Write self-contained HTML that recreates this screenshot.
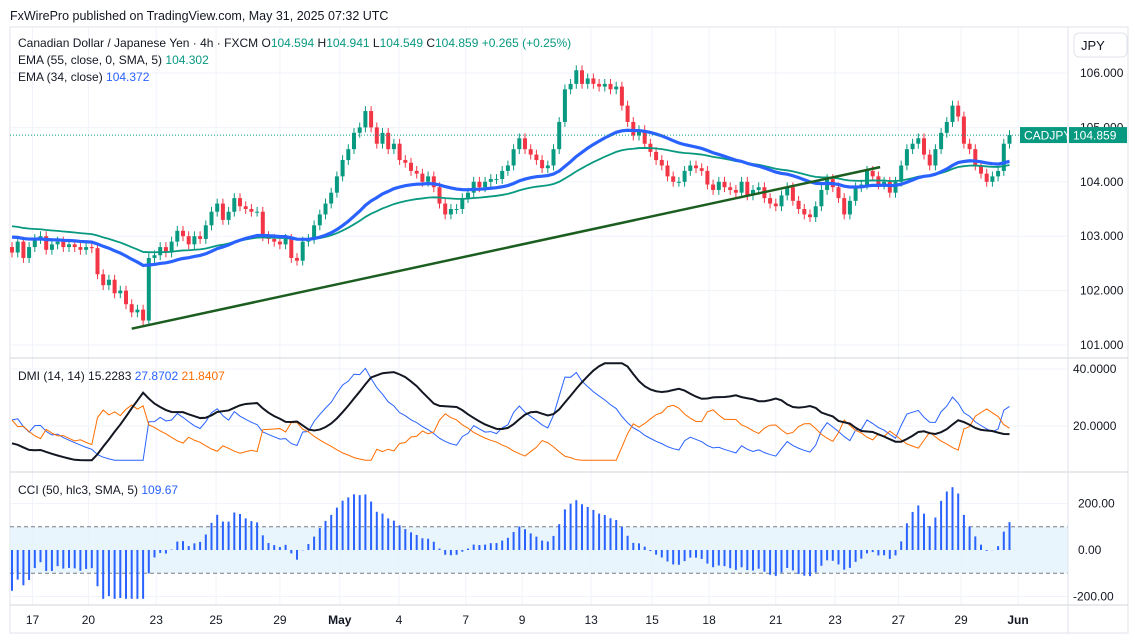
<!DOCTYPE html>
<html><head><meta charset="utf-8"><style>
body{margin:0;background:#fff;font-family:"Liberation Sans",sans-serif;}
svg text{font-family:"Liberation Sans",sans-serif;}
</style></head><body>
<svg id="c" width="1135" height="639" xmlns="http://www.w3.org/2000/svg">
<rect x="0" y="0" width="1135" height="639" fill="#fff"/>
<text x="10" y="20" font-size="12.5" fill="#131722">FxWirePro published on TradingView.com, May 31, 2025 07:32 UTC</text>
<rect x="10" y="27" width="1118" height="606" fill="none" stroke="#e0e3eb"/>
<g id="grid"></g>
<g id="main"></g>
<g id="dmi"></g>
<g id="cci"></g>
<g id="axes"></g>
<text x="18" y="47" font-size="12" fill="#131722">Canadian Dollar / Japanese Yen · 4h · FXCM  O<tspan fill="#089981">104.594</tspan>  H<tspan fill="#089981">104.941</tspan>  L<tspan fill="#089981">104.549</tspan>  C<tspan fill="#089981">104.859</tspan>  <tspan fill="#089981">+0.265 (+0.25%)</tspan></text>
<text x="18" y="64" font-size="12" fill="#131722">EMA (55, close, 0, SMA, 5)  <tspan fill="#089981">104.302</tspan></text>
<text x="18" y="81" font-size="12" fill="#131722">EMA (34, close)  <tspan fill="#2962ff">104.372</tspan></text>
<text x="18" y="380" font-size="12" fill="#131722">DMI (14, 14)  15.2283  <tspan fill="#2962ff">27.8702</tspan>  <tspan fill="#ff6d00">21.8407</tspan></text>
<text x="18" y="494" font-size="12" fill="#131722">CCI (50, hlc3, SMA, 5)  <tspan fill="#2962ff">109.67</tspan></text>
<rect x="1074" y="33" width="53" height="24" rx="5" fill="#fff" stroke="#e0e3eb"/>
<text x="1081" y="50" font-size="13" fill="#131722">JPY</text>
</svg>
<script>
const histCloses=[103.4,103.5,103.45,103.6,103.55,103.5,103.4,103.45,103.35,103.3,
103.3,103.2,103.25,103.15,103.1,103.1,103.0,103.05,102.95,102.9];
const closes=[102.7,102.9,102.6,102.8,102.95,103.0,102.75,102.85,102.9,102.8,
102.85,102.8,102.75,102.8,102.78,102.3,102.1,102.2,101.95,102.0,
101.75,101.6,101.65,101.45,102.6,102.65,102.8,102.7,102.9,103.1,
103.0,102.85,103.0,102.95,103.2,103.45,103.6,103.3,103.45,103.7,
103.55,103.5,103.45,103.45,103.0,102.95,102.9,102.85,102.95,102.6,
102.55,102.9,102.95,103.2,103.4,103.6,103.8,104.1,104.4,104.6,
104.9,105.0,105.3,105.0,104.7,104.9,104.6,104.7,104.4,104.35,
104.2,104.15,104.0,104.1,103.9,103.6,103.4,103.5,103.5,103.7,
103.8,104.0,103.9,104.0,104.05,104.05,104.2,104.3,104.6,104.8,
104.6,104.5,104.4,104.25,104.3,104.6,105.1,105.7,105.8,106.05,
105.8,105.9,105.8,105.75,105.8,105.7,105.75,105.4,105.1,104.85,
104.95,104.7,104.55,104.4,104.3,104.1,104.0,104.0,104.2,104.3,
104.25,104.2,103.95,103.85,104.0,103.9,103.85,103.8,104.0,103.75,
103.85,103.9,103.7,103.6,103.55,103.75,103.9,103.65,103.5,103.4,
103.35,103.55,103.85,104.05,103.9,103.7,103.4,103.65,103.9,103.95,
104.2,104.1,103.95,104.0,103.8,104.0,104.3,104.6,104.7,104.8,
104.5,104.3,104.6,104.9,105.1,105.4,105.2,104.7,104.6,104.3,
104.15,104.0,104.1,104.2,104.7,104.859];
const firstOpen=102.8;
const priceTicks=[106,105,104,103,102,101];
const dmiTicks=[40,20];
const cciTicks=[200,0,-200];
const dateLabels=["17","20","23","25","29","May","4","7","9","13","15","18","21","23","27","29","Jun"];
const dateIdx=[3.6,13.4,25.3,35.8,47,57.5,67.9,79.6,89.5,101.6,112.3,122.3,134,144.4,155.5,166.5,176.5];
const trendStart=[21,101.3], trendEnd=[152.3,104.27];

const NS="http://www.w3.org/2000/svg";
function el(t,a,p){const e=document.createElementNS(NS,t);for(const k in a)e.setAttribute(k,a[k]);(p||document.getElementById('c')).appendChild(e);return e;}
const X=i=>12+i*5.7;
const Y=p=>73+(106-p)*54.4;
const YD=v=>426-(v-20)*2.85;
const YC=v=>550-v*0.2325;
const R=1068;
const grid=document.getElementById('grid'),main=document.getElementById('main'),dmi=document.getElementById('dmi'),cci=document.getElementById('cci'),axes=document.getElementById('axes');

dateIdx.forEach(i=>{const g=el('line',{x1:X(i),x2:X(i),y1:28,y2:605,stroke:'#f0f3fa'},grid);});
priceTicks.forEach(p=>{const g=el('line',{x1:10,x2:R,y1:Y(p),y2:Y(p),stroke:'#f0f3fa'},grid);
const t=el('text',{x:1080,y:Y(p)+4,'font-size':12,fill:'#131722'},axes);t.textContent=p.toFixed(3);});
dmiTicks.forEach(v=>{const g=el('line',{x1:10,x2:R,y1:YD(v),y2:YD(v),stroke:'#f0f3fa'},grid);
const t=el('text',{x:1073,y:YD(v)+4,'font-size':12,fill:'#131722'},axes);t.textContent=v.toFixed(4);});
cciTicks.forEach(v=>{const g=el('line',{x1:10,x2:R,y1:YC(v),y2:YC(v),stroke:'#f0f3fa'},grid);
const t=el('text',{x:v<0?1073:1078,y:YC(v)+4,'font-size':12,fill:'#131722'},axes);t.textContent=v.toFixed(2);});
[358,472,605].forEach(y=>{const l=el('line',{x1:10,x2:1128,y1:y,y2:y,stroke:'#d1d4dc'},axes);});
const ax=el('line',{x1:R,x2:R,y1:27,y2:633,stroke:'#e0e3eb'},axes);
dateLabels.forEach((d,k)=>{const t=el('text',{x:X(dateIdx[k]),y:624,'font-size':12,fill:'#131722','text-anchor':'middle','font-weight':d==='May'||d==='Jun'?'bold':'normal'},axes);t.textContent=d;});

const N=closes.length,O=[],H=[],L=[];
for(let i=0;i<N;i++){const o=i?closes[i-1]:firstOpen;O.push(o);H.push(Math.max(o,closes[i])+0.09);L.push(Math.min(o,closes[i])-0.09);}

for(let i=0;i<N;i++){const up=closes[i]>=O[i],col=up?'#089981':'#f23645';
const w=el('line',{x1:X(i),x2:X(i),y1:Y(H[i]),y2:Y(L[i]),stroke:col,'stroke-width':1},main);
const t=Y(Math.max(O[i],closes[i])),b=Y(Math.min(O[i],closes[i]));
const r=el('rect',{x:X(i)-2,y:t,width:4,height:Math.max(1,b-t),fill:col},main);}

function ema(n,seed){let e=seed;return closes.map(c=>{e=e+(2/(n+1))*(c-e);return e;});}
const e55=ema(55,103.2),e34=ema(34,103.0);
const p55=el('polyline',{points:e55.map((v,i)=>X(i)+','+Y(v)).join(' '),fill:'none',stroke:'#089981','stroke-width':1.8},main);
const p34=el('polyline',{points:e34.map((v,i)=>X(i)+','+Y(v)).join(' '),fill:'none',stroke:'#2962ff','stroke-width':3.2},main);
const tl=el('line',{x1:X(trendStart[0]),y1:Y(trendStart[1]),x2:X(trendEnd[0]),y2:Y(trendEnd[1]),stroke:'#1b5e20','stroke-width':2.5},main);
const last=closes[N-1];
const dl=el('line',{x1:10,x2:R,y1:Y(last),y2:Y(last),stroke:'#089981','stroke-dasharray':'1 2'},main);
const b1=el('rect',{x:1020,y:Y(last)-8,width:47,height:16,fill:'#089981'},axes);
const t1=el('text',{x:1024,y:Y(last)+4.5,'font-size':12,fill:'#fff'},axes);t1.textContent='CADJPY';
const b2=el('rect',{x:1069,y:Y(last)-8,width:58,height:16,fill:'#089981'},axes);
const t2=el('text',{x:1073,y:Y(last)+4.5,'font-size':12,fill:'#fff'},axes);t2.textContent=last.toFixed(3);

let sTR=14*0.25,sP=14*0.06,sM=14*0.06,adx=15;const PD=[],MD=[],AD=[];
for(let i=0;i<N;i++){const ph=i?H[i-1]:H[i],pl=i?L[i-1]:L[i],pc=i?closes[i-1]:O[i];
const up=H[i]-ph,dn=pl-L[i];const pdm=up>dn&&up>0?up:0,mdm=dn>up&&dn>0?dn:0;
const tr=Math.max(H[i]-L[i],Math.abs(H[i]-pc),Math.abs(L[i]-pc));
sTR=sTR-sTR/14+tr;sP=sP-sP/14+pdm;sM=sM-sM/14+mdm;
const pdi=100*sP/sTR,mdi=100*sM/sTR,dx=100*Math.abs(pdi-mdi)/(pdi+mdi||1);adx=adx+(dx-adx)/14;
PD.push(pdi);MD.push(mdi);AD.push(adx);}
const cl=v=>Math.max(8,Math.min(42,v));
[[PD,'#2962ff',1,'plus-di-line'],[MD,'#ff6d00',1,'minus-di-line'],[AD,'#131722',2,'adx-line']].forEach(([a,c,w,n])=>{const p=el('polyline',{points:a.map((v,i)=>X(i)+','+YD(cl(v))).join(' '),fill:'none',stroke:c,'stroke-width':w},dmi);});

const band=el('rect',{x:10,y:YC(100),width:R-10,height:YC(-100)-YC(100),fill:'#e3f2fd',opacity:0.8},cci);
[100,-100].forEach(v=>{const l=el('line',{x1:10,x2:R,y1:YC(v),y2:YC(v),stroke:'#787b86','stroke-dasharray':'4 3'},cci);});
const allC=histCloses.concat(closes),HP=histCloses.length;
const tp=allC.map((c,j)=>j<HP?c:(H[j-HP]+L[j-HP]+c)/3);
for(let i=0;i<N;i++){const j=i+HP,s=Math.max(0,j-49),w=tp.slice(s,j+1);const m=w.reduce((a,b)=>a+b,0)/w.length;
const md=w.reduce((a,b)=>a+Math.abs(b-m),0)/w.length||1;let v=(tp[j]-m)/(0.015*md);v=Math.max(-210,Math.min(270,v));
const r=el('rect',{x:X(i)-1,y:Math.min(YC(v),YC(0)),width:2,height:Math.abs(YC(v)-YC(0)),fill:'#2962ff'},cci);}
</script>
</body></html>
